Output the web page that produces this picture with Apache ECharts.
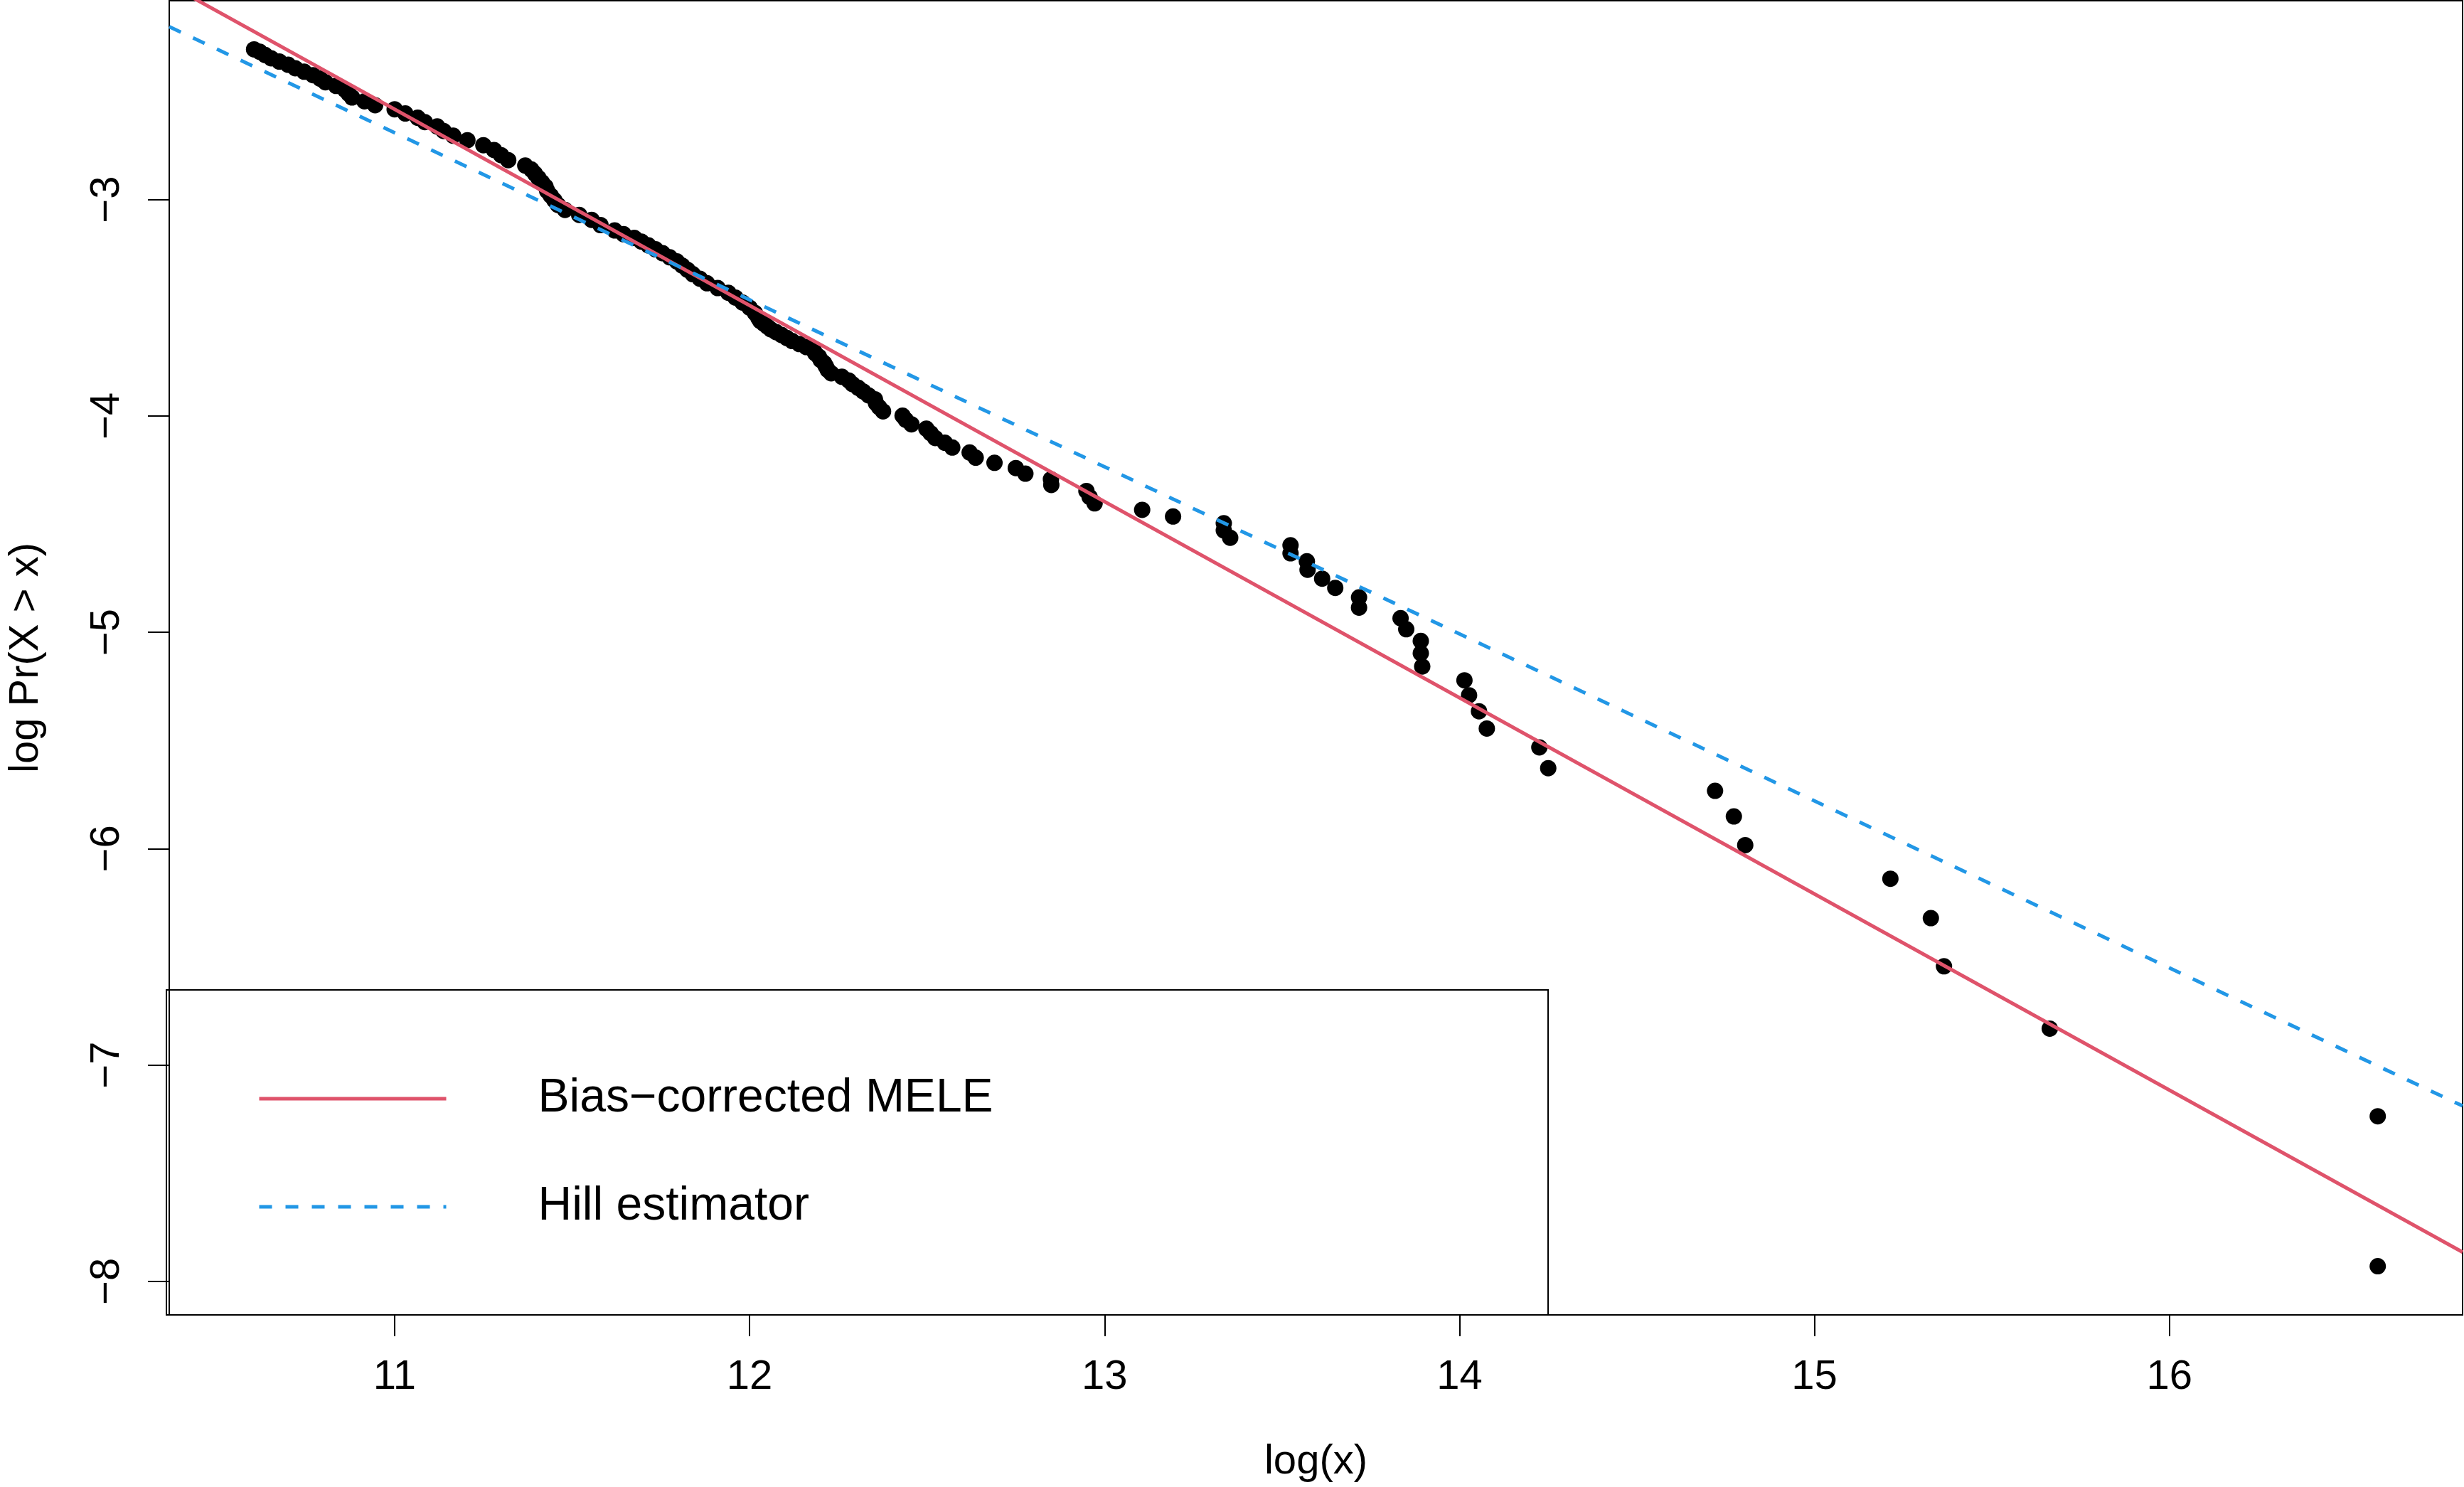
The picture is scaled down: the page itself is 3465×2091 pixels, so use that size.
<!DOCTYPE html>
<html lang="en">

<head>
    <meta charset="UTF-8">
    <title>log Pr(X > x) vs log(x)</title>
    <script src="https://cdn.jsdelivr.net/npm/echarts@6/dist/echarts.min.js"></script>
    <style>
        html, body { margin: 0; padding: 0; background: #fff; }
        #main { width: 3465px; height: 2091px; }
    </style>
</head>

<body>
    <div id="main"></div>

    <script>
        // tail sample, largest observation first (ranks 1..60, then thinned along the dense band)
        const logX = [
            16.587, 16.587, 15.663, 15.365, 15.328, 15.214, 14.805, 14.773, 14.720, 14.250,
            14.225, 14.077, 14.055, 14.027, 14.014, 13.895, 13.891, 13.891, 13.850, 13.834,
            13.717, 13.717, 13.650, 13.613, 13.572, 13.570, 13.524, 13.524, 13.354, 13.336,
            13.336, 13.193, 13.106, 12.972, 12.958, 12.949, 12.850, 12.849, 12.777, 12.750,
            12.690, 12.637, 12.620, 12.571, 12.550, 12.523, 12.510, 12.498, 12.456, 12.440,
            12.431, 12.376, 12.365, 12.356, 12.353, 12.335, 12.320, 12.306, 12.290, 12.279,
            12.26, 12.23, 12.22, 12.215, 12.21, 12.20, 12.195, 12.185, 12.18, 12.16,
            12.14, 12.12, 12.105, 12.09, 12.075, 12.06, 12.05, 12.04, 12.03, 12.025,
            12.015, 12.00, 11.98, 11.96, 11.94, 11.91, 11.88, 11.86, 11.84, 11.825,
            11.81, 11.795, 11.775, 11.755, 11.735, 11.715, 11.695, 11.675, 11.645, 11.62,
            11.58, 11.555, 11.52, 11.48, 11.46, 11.45, 11.44, 11.43, 11.425, 11.415,
            11.405, 11.395, 11.385, 11.368, 11.32, 11.30, 11.28, 11.25, 11.205, 11.165,
            11.138, 11.12, 11.085, 11.065, 11.03, 11.00, 10.945, 10.915, 10.88, 10.87,
            10.86, 10.835, 10.805, 10.79, 10.77, 10.745, 10.72, 10.70, 10.675, 10.652,
            10.635, 10.62, 10.604
        ];
        const logP = [
            -7.930, -7.237, -6.832, -6.544, -6.321, -6.139, -5.984, -5.851, -5.733, -5.628,
            -5.532, -5.445, -5.365, -5.291, -5.222, -5.158, -5.097, -5.040, -4.986, -4.935,
            -4.886, -4.839, -4.795, -4.752, -4.711, -4.672, -4.635, -4.598, -4.563, -4.529,
            -4.496, -4.465, -4.434, -4.404, -4.375, -4.347, -4.319, -4.293, -4.267, -4.241,
            -4.217, -4.193, -4.169, -4.146, -4.124, -4.102, -4.080, -4.059, -4.039, -4.018,
            -3.999, -3.979, -3.960, -3.941, -3.923, -3.905, -3.887, -3.870, -3.853, -3.836,
            -3.819, -3.803, -3.787, -3.771, -3.756, -3.741, -3.726, -3.711, -3.696, -3.682,
            -3.668, -3.654, -3.640, -3.626, -3.613, -3.600, -3.587, -3.574, -3.561, -3.548,
            -3.524, -3.500, -3.476, -3.453, -3.431, -3.409, -3.387, -3.366, -3.345, -3.325,
            -3.305, -3.286, -3.267, -3.248, -3.230, -3.212, -3.194, -3.177, -3.160, -3.143,
            -3.118, -3.094, -3.071, -3.048, -3.025, -3.003, -2.982, -2.961, -2.940, -2.920,
            -2.900, -2.880, -2.861, -2.843, -2.818, -2.795, -2.771, -2.749, -2.726, -2.705,
            -2.683, -2.662, -2.642, -2.622, -2.602, -2.583, -2.564, -2.546, -2.528, -2.510,
            -2.492, -2.475, -2.458, -2.441, -2.425, -2.409, -2.393, -2.377, -2.362, -2.347,
            -2.332, -2.317, -2.306
        ];

        // fitted lines, end points read at the plot edges
        const meleLine = [[10.365, -2.007], [16.826, -7.865]];
        const hillLine = [[10.365, -2.201], [16.826, -7.189]];

        const xTicks = [11, 12, 13, 14, 15, 16];
        const yTicks = [-8, -7, -6, -5, -4, -3];
        const seriesNames = ['Bias\u2212corrected MELE', 'Hill estimator'];

        const FONT = '"Liberation Sans", Arial, Helvetica, sans-serif';
        const minus = (v) => String(v).replace('-', '\u2212');

        const myChart = echarts.init(document.getElementById('main'), null, { renderer: 'canvas' });

        let option = {
            animation: false,
            backgroundColor: '#fff',
            grid: {
                left: 234, right: 2, top: 1, bottom: 242,
                show: true, borderColor: '#000', borderWidth: 2, backgroundColor: 'transparent'
            },
            legend: {
                data: seriesNames,
                orient: 'vertical',
                left: 362, top: 1512,
                padding: 0,
                itemWidth: 263, itemHeight: 66, itemGap: 86,
                selectedMode: false,
                // only the line in the key, no marker
                itemStyle: { opacity: 0 },
                lineStyle: { width: 5 },
                textStyle: { fontFamily: FONT, fontSize: 66, color: '#000', padding: [0, 0, 0, 124] }
            },
            // box round the legend
            graphic: [{
                type: 'rect',
                shape: { x: 234, y: 1392, width: 1943, height: 457 },
                style: { fill: null, stroke: '#000', lineWidth: 2 },
                silent: true, z: 10
            }],
            xAxis: {
                type: 'value',
                min: 10.365, max: 16.826,
                name: 'log(x)',
                nameLocation: 'middle',
                nameGap: 178,
                nameTextStyle: { fontFamily: FONT, fontSize: 58, color: '#000' },
                axisLine: { show: true, onZero: false, lineStyle: { color: '#000', width: 2 } },
                axisTick: { show: true, inside: false, length: 30, customValues: xTicks, lineStyle: { color: '#000', width: 2 } },
                axisLabel: { customValues: xTicks, margin: 59, fontFamily: FONT, fontSize: 58, color: '#000' },
                splitLine: { show: false }
            },
            yAxis: {
                type: 'value',
                min: -8.155, max: -2.081,
                name: 'log Pr(X > x)',
                nameLocation: 'middle',
                nameGap: 172,
                nameTextStyle: { fontFamily: FONT, fontSize: 58, color: '#000' },
                axisLine: { show: true, onZero: false, lineStyle: { color: '#000', width: 2 } },
                axisTick: { show: true, inside: false, length: 30, customValues: yTicks, lineStyle: { color: '#000', width: 2 } },
                axisLabel: { customValues: yTicks, rotate: 90, margin: 58, fontFamily: FONT, fontSize: 58, color: '#000', formatter: minus },
                splitLine: { show: false }
            },
            series: [
                {
                    type: 'scatter',
                    data: logX.map((x, i) => [x, logP[i]]),
                    symbol: 'circle',
                    symbolSize: 23,
                    itemStyle: { color: '#000', opacity: 1 },
                    silent: true
                },
                {
                    name: seriesNames[0],
                    type: 'line',
                    data: meleLine,
                    symbol: 'none',
                    showSymbol: false,
                    lineStyle: { color: '#DF536B', width: 5 },
                    itemStyle: { color: '#DF536B' },
                    silent: true
                },
                {
                    name: seriesNames[1],
                    type: 'line',
                    data: hillLine,
                    symbol: 'none',
                    showSymbol: false,
                    lineStyle: { color: '#2297E6', width: 5, type: [18, 19] },
                    itemStyle: { color: '#2297E6' },
                    silent: true
                }
            ]
        };

        myChart.setOption(option);
    </script>
</body>

</html>
